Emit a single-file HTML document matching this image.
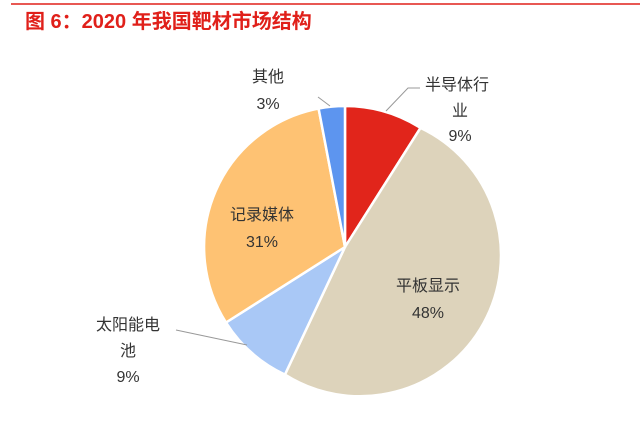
<!DOCTYPE html>
<html><head><meta charset="utf-8"><style>
body{margin:0;background:#fff;width:640px;height:419px;overflow:hidden}
text{font-family:"Liberation Sans","Noto Sans CJK SC",sans-serif;font-size:16px;fill:#333}
</style></head><body>
<svg width="640" height="419" viewBox="0 0 640 419">
<line x1="11" y1="4" x2="640" y2="4" stroke="#e0201a" stroke-width="1.5"/>
<text x="25" y="28" style="font-size:20px;fill:#e0201a;font-weight:bold">图 6：2020 年我国靶材市场结构</text>
<g stroke="#fff" stroke-width="2.5" stroke-linejoin="round">
<path d="M345,247 L345,106 A141,141 0 0 1 420.5,127.9 Z" fill="#e1251b"/>
<path d="M345,247 L420.5,127.9 A141,141 0 1 1 284.9,374.6 Z" fill="#ddd3bb"/>
<path d="M345,247 L284.9,374.6 A141,141 0 0 1 226.0,322.5 Z" fill="#a9c8f6"/>
<path d="M345,247 L226.0,322.5 A141,141 0 0 1 318.6,108.5 Z" fill="#fec273"/>
<path d="M345,247 L318.6,108.5 A141,141 0 0 1 345,106 Z" fill="#5d95ef"/>
</g>
<g stroke="#999" stroke-width="1" fill="none">
<polyline points="386,111 408,88 420,88"/>
<polyline points="330,106 318,97"/>
<polyline points="247,345 176,330"/>
</g>
<text x="425" y="90">半导体行</text>
<text x="460" y="116" text-anchor="middle">业</text>
<text x="460" y="141" text-anchor="middle">9%</text>
<text x="268" y="82" text-anchor="middle">其他</text>
<text x="268" y="109" text-anchor="middle">3%</text>
<text x="128" y="330" text-anchor="middle">太阳能电</text>
<text x="128" y="356" text-anchor="middle">池</text>
<text x="128" y="382" text-anchor="middle">9%</text>
<text x="262" y="220" text-anchor="middle">记录媒体</text>
<text x="262" y="247" text-anchor="middle">31%</text>
<text x="428" y="291" text-anchor="middle">平板显示</text>
<text x="428" y="318" text-anchor="middle">48%</text>
</svg>
</body></html>
